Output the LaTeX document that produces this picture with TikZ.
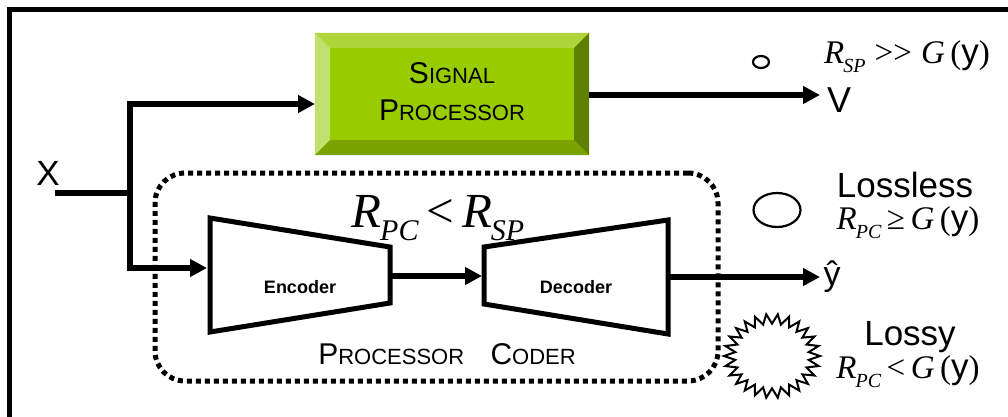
\documentclass[tikz,border=0pt]{standalone}
\usepackage{fontspec}
\setmainfont{Liberation Sans}
\newfontfamily\tms{Liberation Serif}
\usetikzlibrary{arrows.meta, shapes.geometric, calc}
\definecolor{spface}{HTML}{99CC00}
\definecolor{sptop}{HTML}{AED63A}
\definecolor{spleft}{HTML}{C0E070}
\definecolor{spbot}{HTML}{7AA300}
\definecolor{spright}{HTML}{5F7F00}
\newcommand{\fsz}[1]{\fontsize{#1}{#1}\selectfont}
\newcommand{\rate}[2]{{\tms\itshape R}\kern-0.03em\raisebox{-0.28em}{\fsz{#2}\tms\itshape #1}}
\newcommand{\gy}{{\tms\itshape G}\,{\tms(}{\fsz{35}y}{\tms)}}

\begin{document}
\begin{tikzpicture}[x=1pt, y=-1pt]
    \tikzstyle{wire} += [line width=5.5pt];
    \tikzstyle{arr} += [wire, -{Triangle[length=17pt, width=17pt]}];
    \tikzstyle{blk} += [line width=5pt, line join=miter];
    \tikzstyle{lbl} += [anchor=base, inner sep=0pt];
    \useasboundingbox (0,0) rectangle (1008,416);
    \draw[line width=5pt] (9.5,9.5) rectangle (1030,440);

    % signal processor with bevelled edges
    \node (sp) at (452,94) [fill=spface, minimum width=274pt, minimum height=122pt, inner sep=0pt]{};
    \fill[sptop]   (sp.north west) -- (sp.north east) -- ++(-15,15) -- ($(sp.north west)+(15,15)$) -- cycle;
    \fill[spleft]  (sp.north west) -- (sp.south west) -- ++(15,-15) -- ($(sp.north west)+(15,15)$) -- cycle;
    \fill[spbot]   (sp.south west) -- (sp.south east) -- ++(-15,-15) -- ($(sp.south west)+(15,-15)$) -- cycle;
    \fill[spright] (sp.north east) -- (sp.south east) -- ++(-15,-15) -- ($(sp.north east)+(-15,15)$) -- cycle;
    \node (sig)  at (452,83)  [lbl, font=\fsz{30}]{S{\fsz{22}IGNAL}};
    \node (proc) at (452,120) [lbl, font=\fsz{30}]{P{\fsz{22}ROCESSOR}};

    % processor coder
    \node (pc) at (436.5,277) [draw, line width=5pt, dash pattern=on 5pt off 4pt, rounded corners=30pt, minimum width=563pt, minimum height=208pt]{};
    \draw[blk] (210,218) -- (390,247) -- (390,303) -- (210,332) -- cycle;
    \draw[blk] (484,247) -- (668,220) -- (668,334) -- (484,304) -- cycle;
    \node (enc) at (300,287) [font=\fsz{18}\bfseries]{Encoder};
    \node (dec) at (576,287) [font=\fsz{18}\bfseries]{Decoder};
    \node (rpc) at (438,227) [lbl, font=\fsz{49}]{\rate{PC}{30}\,{\tms<}\,\rate{SP}{30}};
    \node (pcname) at (447,364) [lbl, font=\fsz{30}]{P{\fsz{22}ROCESSOR}\hspace{18pt} C{\fsz{22}ODER}};

    \coordinate (src)    at (55,193);
    \coordinate (split)  at (130,193);
    \coordinate (sp-in)  at (315,104);
    \coordinate (sp-out) at (589,95);
    \coordinate (v-end)  at (820,95);
    \coordinate (enc-in) at (207,268);
    \coordinate (enc-out) at (390,276);
    \coordinate (dec-in) at (482,276);
    \coordinate (dec-out) at (668,277);
    \coordinate (y-end)  at (820,277);

    \node (x) at (48,185) [lbl, font=\fsz{35}]{X};
    \node (v) at (839,112) [lbl, font=\fsz{36}]{V};
    \node (yhat) at (832,285) [lbl, font=\fsz{34}]{ŷ};

    \draw[wire] (src) -- (split);
    \draw[arr] (split) |- (sp-in);
    \draw[arr] (split) |- (enc-in);
    \draw[arr] (sp-out) -- (v-end);
    \draw[arr] (enc-out) -- (dec-in);
    \draw[arr] (dec-out) -- (y-end);

    % rate cases
    \node (m1) at (761,62) [draw, ellipse, line width=2.2pt, minimum width=16pt, minimum height=12pt, inner sep=0pt]{};
    \node (m2) at (777,210) [draw, ellipse, line width=2.2pt, minimum width=47pt, minimum height=34pt, inner sep=0pt]{};
    \draw[line width=2pt, line join=miter] (820,356)
      \foreach \i [evaluate=\i as \rr using {1-0.23*mod(\i,2)}] in {1,...,51} { -- ({772+48*\rr*cos(\i*6.923)}, {356+42*\rr*sin(\i*6.923)}) } -- cycle;

    \node (c1) at (907,63)  [lbl, font=\fsz{33}]{\rate{SP}{20}\;{\tms>{}>}\;\gy};
    \node (c2) at (905,197) [lbl, font=\fsz{35}]{Lossless};
    \node (c3) at (908,229) [lbl, font=\fsz{33}]{\rate{PC}{20}\,{\tms≥}\,\gy};
    \node (c4) at (910,345) [lbl, font=\fsz{35}]{Lossy};
    \node (c5) at (908,378) [lbl, font=\fsz{33}]{\rate{PC}{20}\,{\tms<}\,\gy};
\end{tikzpicture}
\end{document}
